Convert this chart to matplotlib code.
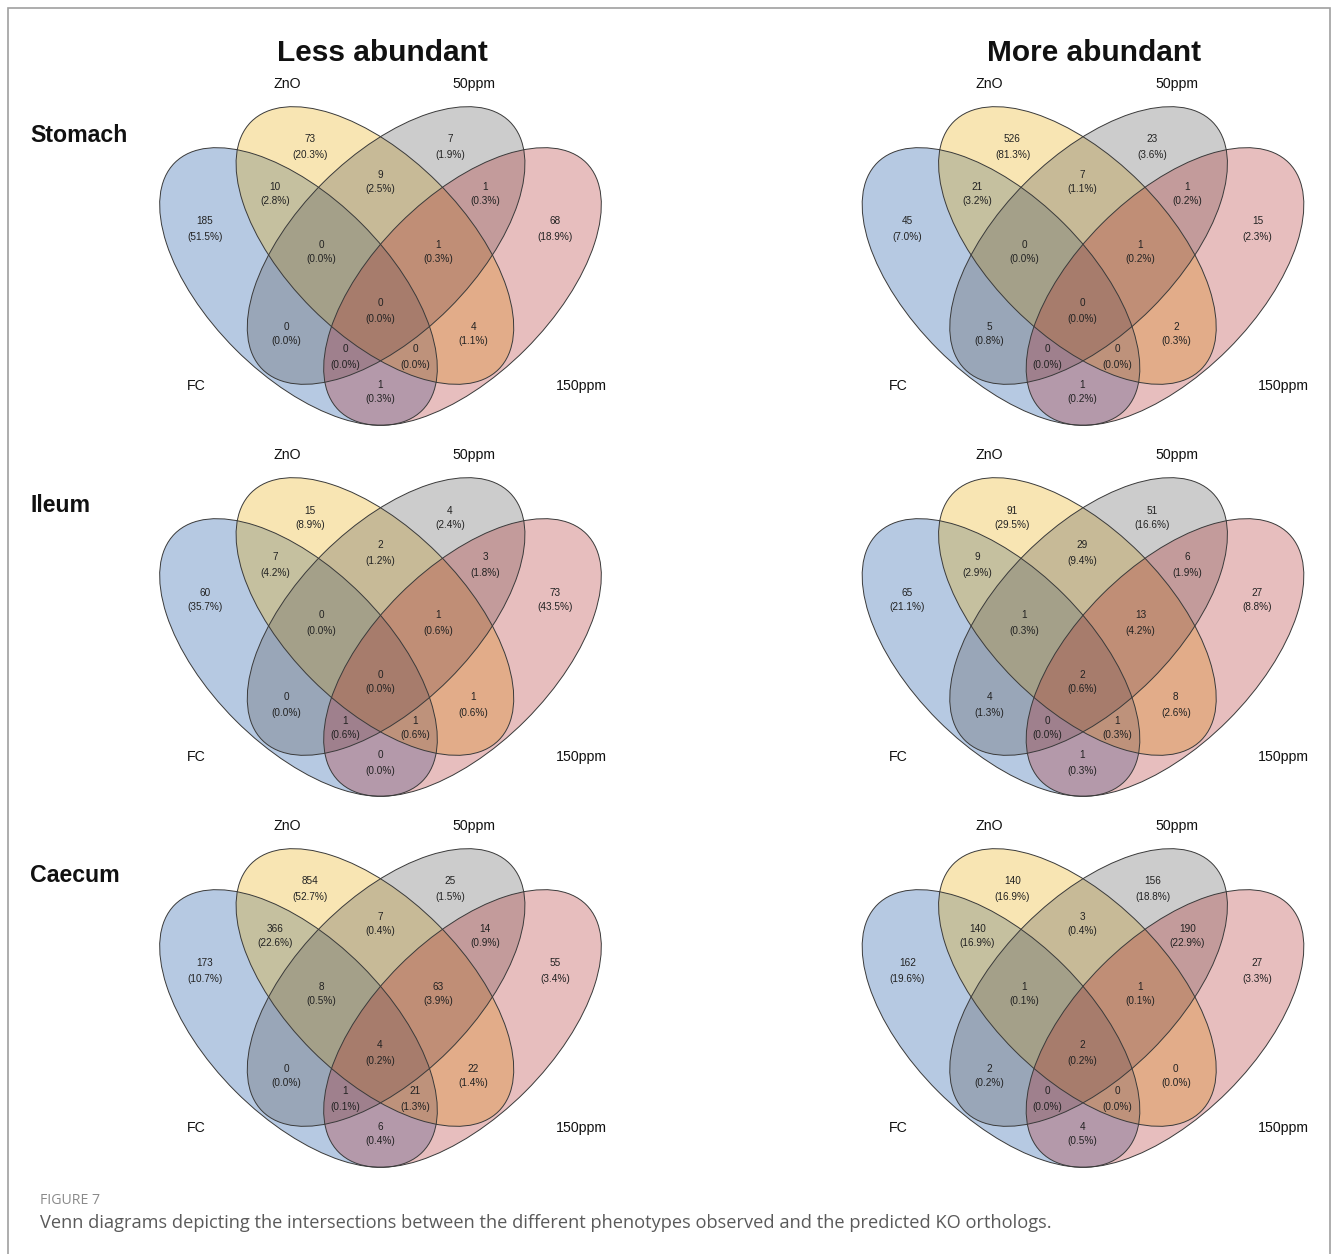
import matplotlib
matplotlib.use("Agg")
import matplotlib.pyplot as plt
from matplotlib.patches import Ellipse

# ---------------- data ----------------
set_names = ["FC", "ZnO", "50ppm", "150ppm"]
column_titles = ["Less abundant", "More abundant"]
row_titles = ["Stomach", "Ileum", "Caecum"]

# region order
regions = ["FC", "ZnO", "50ppm", "150ppm",
           "FC&ZnO", "ZnO&50ppm", "50ppm&150ppm",
           "FC&ZnO&50ppm", "ZnO&50ppm&150ppm", "all",
           "FC&50ppm", "ZnO&150ppm",
           "FC&50ppm&150ppm", "FC&ZnO&150ppm", "FC&150ppm"]

stomach_less_n = [185, 73, 7, 68, 10, 9, 1, 0, 1, 0, 0, 4, 0, 0, 1]
stomach_less_p = [51.5, 20.3, 1.9, 18.9, 2.8, 2.5, 0.3, 0.0, 0.3, 0.0, 0.0, 1.1, 0.0, 0.0, 0.3]
stomach_more_n = [45, 526, 23, 15, 21, 7, 1, 0, 1, 0, 5, 2, 0, 0, 1]
stomach_more_p = [7.0, 81.3, 3.6, 2.3, 3.2, 1.1, 0.2, 0.0, 0.2, 0.0, 0.8, 0.3, 0.0, 0.0, 0.2]
ileum_less_n = [60, 15, 4, 73, 7, 2, 3, 0, 1, 0, 0, 1, 1, 1, 0]
ileum_less_p = [35.7, 8.9, 2.4, 43.5, 4.2, 1.2, 1.8, 0.0, 0.6, 0.0, 0.0, 0.6, 0.6, 0.6, 0.0]
ileum_more_n = [65, 91, 51, 27, 9, 29, 6, 1, 13, 2, 4, 8, 0, 1, 1]
ileum_more_p = [21.1, 29.5, 16.6, 8.8, 2.9, 9.4, 1.9, 0.3, 4.2, 0.6, 1.3, 2.6, 0.0, 0.3, 0.3]
caecum_less_n = [173, 854, 25, 55, 366, 7, 14, 8, 63, 4, 0, 22, 1, 21, 6]
caecum_less_p = [10.7, 52.7, 1.5, 3.4, 22.6, 0.4, 0.9, 0.5, 3.9, 0.2, 0.0, 1.4, 0.1, 1.3, 0.4]
caecum_more_n = [162, 140, 156, 27, 140, 3, 190, 1, 1, 2, 2, 0, 0, 0, 4]
caecum_more_p = [19.6, 16.9, 18.8, 3.3, 16.9, 0.4, 22.9, 0.1, 0.1, 0.2, 0.2, 0.0, 0.0, 0.0, 0.5]

panels = [
    [(stomach_less_n, stomach_less_p), (stomach_more_n, stomach_more_p)],
    [(ileum_less_n, ileum_less_p), (ileum_more_n, ileum_more_p)],
    [(caecum_less_n, caecum_less_p), (caecum_more_n, caecum_more_p)],
]

caption_head = "FIGURE 7"
caption_text = ("Venn diagrams depicting the intersections between the different "
                "phenotypes observed and the predicted KO orthologs.")

# ---------------- layout / style ----------------
W, H = 1333, 1254
fill_cols = ["#0E4FA0", "#E8AC04", "#585858", "#B02A2A"]
fill_alpha = 0.30
edge_col = "#3a3a3a"

# ellipse geometry relative to panel centre (px): dx, y, angle
ell_a, ell_b = 175, 89
ell_geom = [(-82.0, 286.5, 45), (-5.6, 245.5, 45), (5.6, 245.5, -45), (82.0, 286.5, -45)]

# label positions relative to panel centre (dx, y centre of the two-line label)
lab_pos = [(-175.5, 229), (-70.5, 147), (69.5, 147), (174.5, 229),
           (-105.5, 194), (-0.5, 182), (104.5, 194),
           (-58.8, 252), (57.5, 252), (-0.5, 311),
           (-93.8, 334), (92.8, 334),
           (-35.5, 357), (34.5, 357), (-0.5, 392)]
set_lab_pos = [(-184.5, 386), (-93.5, 84), (93.5, 84), (200.5, 386)]

col_centers = [380.5, 1083.0]
row_offsets = [0, 371, 742]

fig = plt.figure(figsize=(W / 100, H / 100), dpi=100)
ax = fig.add_axes([0, 0, 1, 1])
ax.set_xlim(0, W)
ax.set_ylim(H, 0)
ax.axis("off")

font = "Liberation Sans"

for r, row in enumerate(panels):
    oy = row_offsets[r]
    for c, (counts, pcts) in enumerate(row):
        cx = col_centers[c]
        for (dx, y, ang), col in zip(ell_geom, fill_cols):
            ax.add_patch(Ellipse((cx + dx, y + oy), 2 * ell_a, 2 * ell_b, angle=ang,
                                 facecolor=col, alpha=fill_alpha, edgecolor="none", zorder=1))
        for (dx, y, ang) in ell_geom:
            ax.add_patch(Ellipse((cx + dx, y + oy), 2 * ell_a, 2 * ell_b, angle=ang,
                                 facecolor="none", edgecolor=edge_col, lw=0.7, zorder=2))
        for (dx, y), n, p in zip(lab_pos, counts, pcts):
            ax.text(cx + dx, y + oy - 7.5, f"{n}", ha="center", va="center",
                    fontsize=7.2, family=font, color="#222222", zorder=3)
            ax.text(cx + dx, y + oy + 7.5, f"({p:.1f}%)", ha="center", va="center",
                    fontsize=7.2, family=font, color="#222222", zorder=3)
        for (dx, y), name in zip(set_lab_pos, set_names):
            ax.text(cx + dx, y + oy, name, ha="center", va="center",
                    fontsize=10.2, family=font, color="#111111", zorder=3)

# column titles
ax.text(382, 53, column_titles[0], ha="center", va="center", fontsize=21.5,
        family=font, fontweight="bold", color="#111111")
ax.text(1094, 53, column_titles[1], ha="center", va="center", fontsize=21.5,
        family=font, fontweight="bold", color="#111111")

# row titles
for name, y in zip(row_titles, [135, 505, 876]):
    ax.text(30, y, name, ha="left", va="center", fontsize=16.7,
            family=font, fontweight="bold", color="#111111")

# frame
ax.plot([8, 8, 1330, 1330], [H + 5, 8, 8, H + 5], color="#a0a0a0", lw=1.2,
        solid_joinstyle="miter", clip_on=False)

# caption
ax.text(40, 1200, caption_head, ha="left", va="center", fontsize=10.2,
        family="Open Sans", color="#8a8a8a")
ax.text(40, 1223, caption_text, ha="left", va="center", fontsize=13.15,
        family="Open Sans", color="#5a5a5a")

fig.savefig("out.png", dpi=100)
